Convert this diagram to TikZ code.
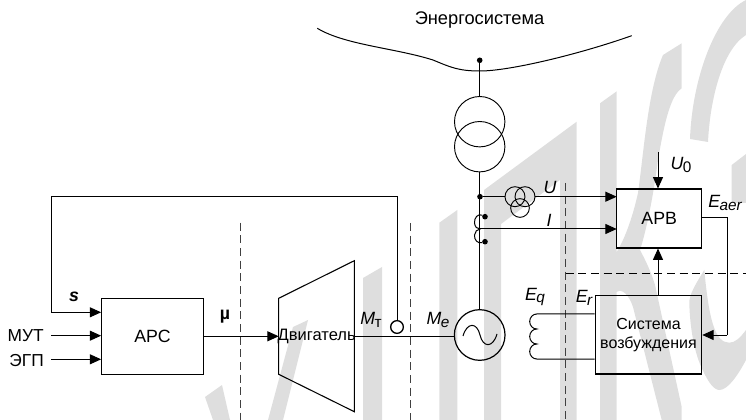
\documentclass[tikz,border=0pt]{standalone}
\usepackage{fontspec}
\setmainfont{Liberation Sans}
\usetikzlibrary{arrows.meta}
\newcommand{\fs}[1]{\fontsize{#1}{#1}\selectfont}
\newcommand{\msub}[2]{{\fs{13.3}\itshape #1\kern-0.5pt\raisebox{-2pt}{\fs{11.5}#2}}}
\begin{document}
\begin{tikzpicture}[x=0.75pt,y=-0.75pt,
  wire/.style={draw=black,line width=0.75pt},
  arr/.style={wire,-{Triangle[length=8.5pt,width=7.5pt]}},
  blockbox/.style={draw=black,line width=0.85pt,inner sep=0pt,align=center},
  lab/.style={inner sep=0pt,font=\fs{13}},
  mlab/.style={inner sep=0pt,font=\fs{13.3}\itshape},
  sep/.style={draw=black!75,line width=0.7pt,dash pattern=on 6pt off 3.5pt},
  dotn/.style={circle,fill=black,inner sep=0pt,minimum size=4.2pt},
  ring/.style={circle,draw=black,line width=0.7pt,inner sep=0pt},
  wm/.style={fill=black!13,draw=none}]
\useasboundingbox (0,0) rectangle (746,420);
% watermark
\fill[wm] (205,397) -- (222,385) -- (230,420) -- (213,420) -- cycle;
\fill[wm] (293,327) -- (308,320) -- (283,420) -- (268,420) -- cycle;
\fill[wm] (363,278) -- (382,267) -- (382,420) -- (363,420) -- cycle;
\fill[wm] (439.3,222.7) -- (457.3,210) -- (457.3,420) -- (439.3,420) -- cycle;
\fill[wm] (484,190) -- (576.7,121.7) -- (576.7,420) -- (560,420) -- (560,180) -- (501,224) -- (501,420) -- (484,420) -- cycle;
\fill[wm] (600,103.3) -- (616.7,91.3) -- (616.7,252)
  .. controls (624,240) and (632,220) .. (638,193)
  .. controls (644,150) and (648,90) .. (663,55)
  -- (681.7,43.3) -- (681.7,88.3)
  .. controls (670,96) and (664,125) .. (658,160)
  .. controls (654,190) and (648,225) .. (640,250)
  .. controls (648,265) and (652,275) .. (655,285)
  -- (681.7,407) -- (681.7,420) -- (661.7,420) -- (633,307)
  .. controls (629,295) and (622,288) .. (616.7,292)
  -- (616.7,420) -- (600,420) -- cycle;
\fill[wm] (690,139) -- (708,142)
  .. controls (710,100) and (722,50) .. (746,35)
  -- (746,0)
  .. controls (715,15) and (692,80) .. (690,139) -- cycle;
\fill[wm] (731.7,165) -- (746,154) -- (746,203) -- (731.7,203) -- cycle;
\fill[wm] (704.3,270)
  .. controls (695,285) and (689,295) .. (689.3,303.3)
  .. controls (690,330) and (695,355) .. (702.7,370)
  .. controls (708,382) and (714,390) .. (719.3,390)
  .. controls (728,390) and (738,375) .. (746,360)
  -- (746,330)
  .. controls (740,338) and (735,342.7) .. (729.3,342.7)
  .. controls (715,342.7) and (709,320) .. (704.3,270) -- cycle;
% separators
\coordinate (s1t) at (240.7,222.7); \coordinate (s1b) at (240.7,420);
\coordinate (s2t) at (410.7,223); \coordinate (s2b) at (410.7,420);
\coordinate (s3t) at (565.7,183); \coordinate (s3b) at (565.7,420);
\coordinate (s4r) at (746,273.3); \coordinate (s4l) at (565.7,273.3);
\draw[sep] (s1t)--(s1b);
\draw[sep] (s2t)--(s2b);
\draw[sep] (s3t)--(s3b);
\draw[sep,draw=black] (s4l)--(s4r);
% grid
\node[inner sep=0pt,font=\fs{13.7}] (title) at (479.5,20) {Энергосистема};
\coordinate (g0) at (317.3,28.3);
\coordinate (g1) at (631.7,35.7);
\draw[wire] (g0) .. controls (345,45) and (395,48) .. (433,60)
  .. controls (450,67) and (458,71) .. (480,71)
  .. controls (510,71) and (580,54) .. (g1);
\node[dotn] (busdot) at (479.7,60.3) {};
% power transformer
\node[ring,minimum size=37.8pt] (t1) at (479.7,121.7) {};
\node[ring,minimum size=37.8pt] (t2) at (479.7,146.7) {};
\draw[wire] (busdot) -- (t1.north);
% generator
\node[ring,minimum size=38pt,line width=0.9pt] (gen) at (479.7,335) {};
\draw[wire] (t2.south) -- (gen.north);
\draw[wire] (463,336) .. controls (467,322) and (477,322) .. (480,335)
  .. controls (483,348) and (493,348) .. (497,334);
% blocks
\node[blockbox,minimum width=76.2pt,minimum height=57pt,font=\fs{13.3}] (arc) at (152.5,336.3) {АРС};
\node[blockbox,minimum width=63.8pt,minimum height=44.2pt,font=\fs{13.3}] (arv) at (659.2,218.5) {АРВ};
\node[blockbox,minimum width=79.8pt,minimum height=58.7pt,font=\fontsize{12}{14.25}\selectfont] (exc) at (648.5,334.8) {Система\\возбуждения};
% turbine
\coordinate (tl) at (278.7,336.3);
\coordinate (tr) at (354.3,336.3);
\draw[line width=0.8pt] (278.7,298.3) -- (354.3,260.7) -- (354.3,411.7) -- (278.7,374.3) -- cycle;
\node[inner sep=0pt,font=\fs{12.4}] (eng) at (316.7,336.3) {Двигатель};
% left side
\node[lab,anchor=east] (mut) at (44,335.5) {МУТ};
\node[lab,anchor=east] (egp) at (44,360.5) {ЭГП};
\coordinate (mute) at (51.3,335.7);
\coordinate (egpe) at (51.3,359.3);
\draw[arr] (mute) -- (mute -| arc.west);
\draw[arr] (egpe) -- (egpe -| arc.west);
% feedback
\node[ring,minimum size=9.5pt,line width=1pt] (sens) at (397,327) {};
\coordinate (fb1) at (397,196.7);
\coordinate (fb2) at (51.3,196.7);
\coordinate (fb3) at (51.3,312.3);
\draw[wire] (sens.north) -- (fb1) -- (fb2) -- (fb3);
\draw[arr] (fb3) -- (fb3 -| arc.west);
\draw[arr] (arc.east |- tl) -- (tl);
\draw[wire] (tr) -- (gen.west |- tr);
\node[inner sep=0pt,font=\fs{13.3}\bfseries\itshape] (s) at (74,296.5) {s};
\node[inner sep=0pt,font=\fs{13.3}\bfseries] (mu) at (225,317) {µ};
\node[inner sep=0pt] (mt) at (371,320) {\msub{M}{\upshape т}};
\node[inner sep=0pt] (me) at (438,320) {\msub{M}{e}};
% U, I measurement
\node[dotn] (ud) at (480,196.7) {};
\node[ring,minimum size=15pt] (u1) at (515,196.7) {};
\node[ring,minimum size=15pt] (u2) at (525,196.7) {};
\node[ring,minimum size=14pt] (u3) at (520,208) {};
\draw[wire] (ud) -- (u1.west);
\coordinate (uy) at (616.7,196.7);
\draw[arr] (u2.east) -- (uy);
\coordinate (cta) at (480,229);
\coordinate (ciy) at (616.7,229);
\draw[arr] (cta) -- (ciy);
\node[dotn] (c1) at (485,216.7) {};
\node[dotn] (c2) at (485,241.7) {};
\draw[wire] (c1) .. controls (478,213) and (474,218) .. (474.5,223)
  .. controls (475,227) and (477,229) .. (cta)
  .. controls (477,229) and (475,232) .. (474.5,235)
  .. controls (474,240) and (478,244) .. (c2);
\node[mlab] (ul) at (550,187) {U};
\node[mlab] (il) at (549,220) {I};
% ARV connections
\coordinate (u0t) at (658,152);
\draw[arr] (u0t) -- (u0t |- arv.north);
\node[inner sep=0pt] (u0) at (681,165) {\msub{U}{\upshape 0}};
\draw[arr] (u0t |- exc.north) -- (u0t |- arv.south);
\coordinate (e1) at (727.3,218);
\coordinate (e2) at (727.3,335);
\draw[wire] (arv.east |- e1) -- (e1) -- (e2);
\draw[arr] (e2) -- (exc.east |- e2);
\node[inner sep=0pt] (eaer) at (725,203) {\msub{E}{aer}};
% excitation winding
\coordinate (w1) at (536.7,314);
\coordinate (w2) at (536.7,359);
\draw[wire] (exc.west |- w1) -- (w1)
  arc[start angle=90,end angle=-90,x radius=-7,y radius=-7.5]
  arc[start angle=90,end angle=-90,x radius=-7,y radius=-7.5]
  arc[start angle=90,end angle=-90,x radius=-7,y radius=-7.5] -- (exc.west |- w2);
\node[inner sep=0pt] (eq) at (535,297) {\msub{E}{q}};
\node[inner sep=0pt] (er) at (584,298) {\msub{E}{r}};
\end{tikzpicture}
\end{document}
